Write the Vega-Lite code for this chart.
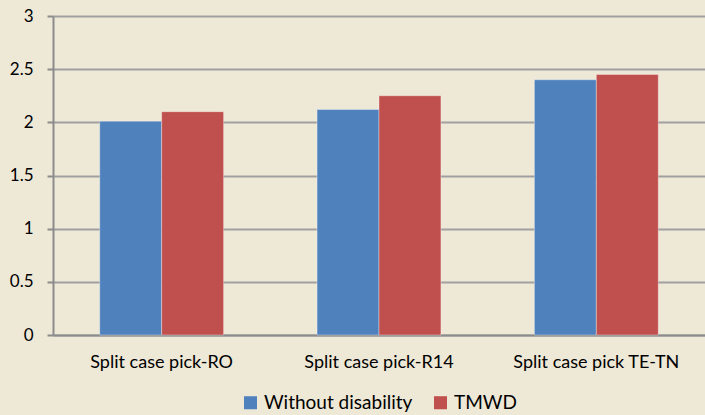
{
  "$schema": "https://vega.github.io/schema/vega-lite/v6.json",
  "width": 705,
  "height": 415,
  "autosize": {"type": "fit", "contains": "padding"},
  "padding": {"left": 9, "top": 7, "right": 0, "bottom": 2},
  "background": "#EEE8D7",
  "config": {
    "view": {"stroke": null},
    "font": "Lato",
    "axis": {"labelFont": "Lato", "labelColor": "#000000", "labelFontSize": 17},
    "legend": {"labelFont": "Lato", "labelColor": "#000000", "labelFontSize": 19, "layout": {"bottom": {"anchor": "middle"}}}
  },
  "data": {
    "values": [
      {"category": "Split case pick-RO", "series": "Without disability", "value": 2.01},
      {"category": "Split case pick-RO", "series": "TMWD", "value": 2.1},
      {"category": "Split case pick-R14", "series": "Without disability", "value": 2.12},
      {"category": "Split case pick-R14", "series": "TMWD", "value": 2.25},
      {"category": "Split case pick TE-TN", "series": "Without disability", "value": 2.4},
      {"category": "Split case pick TE-TN", "series": "TMWD", "value": 2.45}
    ]
  },
  "mark": {"type": "bar", "stroke": "#ffffff", "strokeOpacity": 0.35, "strokeWidth": 1},
  "encoding": {
    "x": {
      "field": "category",
      "type": "nominal",
      "sort": null,
      "title": null,
      "scale": {"paddingInner": 0.43, "paddingOuter": 0.215},
      "axis": {"labelAngle": 0, "ticks": false, "labelPadding": 18, "labelFontSize": 18, "domainColor": "#8C8C8C", "domainWidth": 2, "grid": false}
    },
    "xOffset": {"field": "series", "type": "nominal", "sort": ["Without disability", "TMWD"], "scale": {"paddingInner": 0, "paddingOuter": 0}},
    "y": {
      "field": "value",
      "type": "quantitative",
      "title": null,
      "scale": {"domain": [0, 3], "nice": false},
      "axis": {
        "values": [0, 0.5, 1, 1.5, 2, 2.5, 3],
        "format": "~g",
        "labelOverlap": false,
        "grid": true,
        "gridColor": "#A0A0A0",
        "gridWidth": 2,
        "domainColor": "#8C8C8C",
        "domainWidth": 2,
        "tickColor": "#8C8C8C",
        "tickWidth": 2,
        "tickSize": 6,
        "labelPadding": 14
      }
    },
    "color": {
      "field": "series",
      "type": "nominal",
      "sort": ["Without disability", "TMWD"],
      "scale": {"domain": ["Without disability", "TMWD"], "range": ["#4F81BD", "#C0504D"]},
      "legend": {"orient": "bottom", "direction": "horizontal", "title": null, "symbolType": "square", "symbolSize": 170, "symbolStrokeWidth": 0, "columnPadding": 18, "offset": 22}
    }
  }
}
